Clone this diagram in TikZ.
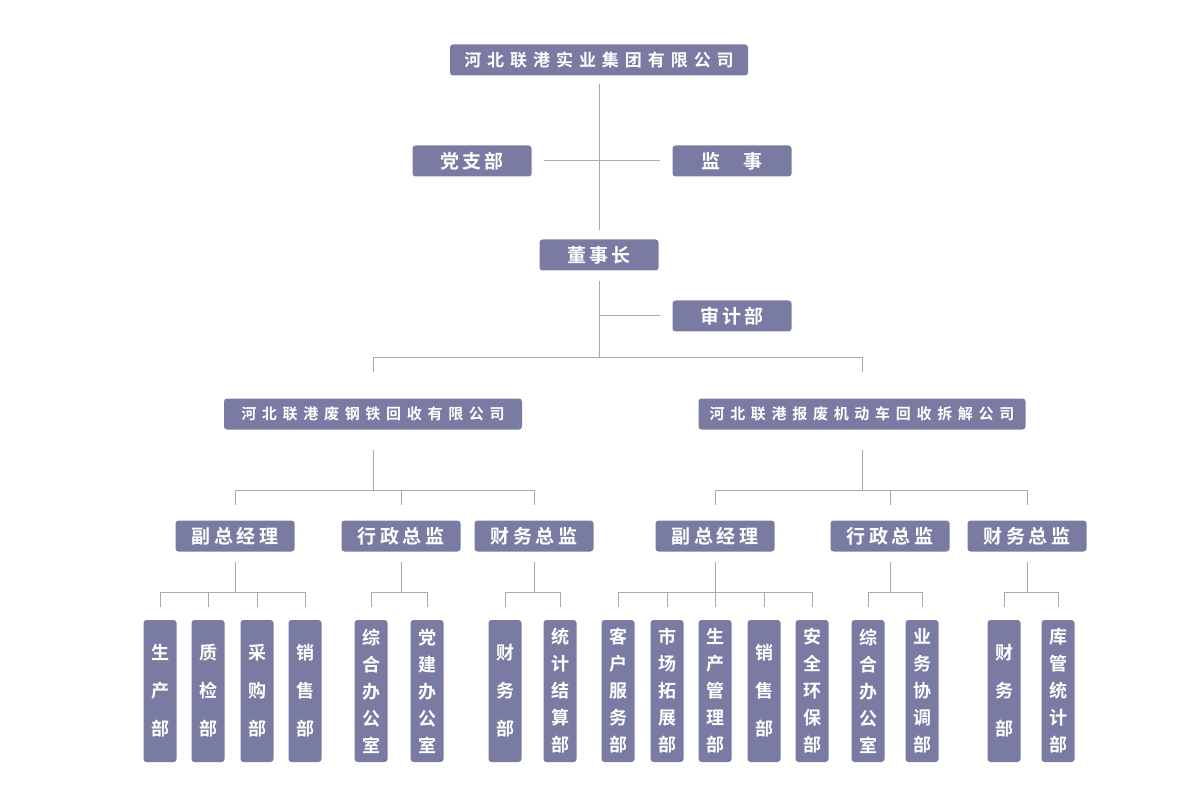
\documentclass[tikz,border=0pt]{standalone}
\usepackage{fontspec}
\newfontfamily\cjk{Noto Sans CJK SC Bold}
\definecolor{boxblue}{HTML}{7A7BA3}
\definecolor{linegray}{HTML}{AAAAAA}
\tikzset{
  box/.style={fill=boxblue,text=white,rounded corners=3pt,inner sep=0pt,
    minimum height=31,minimum width=119},
  topbox/.style={box,minimum width=298,font=\cjk\fontsize{17}{17}\selectfont\addfontfeature{LetterSpace=35}},
  compbox/.style={box,font=\cjk\fontsize{15}{15}\selectfont\addfontfeature{LetterSpace=38}},
  midbox/.style={box,font=\cjk\fontsize{19}{19}\selectfont\addfontfeature{LetterSpace=18}},
  leaf/.style={fill=boxblue,text=white,rounded corners=3pt,inner sep=0pt,
    minimum width=33,minimum height=142,align=center,font=\cjk\fontsize{18}{38}\selectfont},
  leaffive/.style={leaf,font=\cjk\fontsize{18}{27}\selectfont},
  link/.style={draw=linegray,line width=1pt}
}
% parent, gap below parent, bus y, gap above children, children
\newcommand\branch[5]{%
  \draw[link] ([yshift=-#2]#1.south) -- (#1.south |- 0,#3);
  \foreach \c in {#5}{\draw[link] (#1.south |- 0,#3) -| ([yshift=#4]\c.north);}}
\begin{document}
\begin{tikzpicture}[x=1pt,y=-1pt]
\useasboundingbox (0,0) rectangle (1200,786);
% top levels
\node[topbox] (group) at (599,60) {河北联港实业集团有限公司};
\node[midbox] (party) at (472,161) {党支部};
\node[midbox] (super) at (732,161) {监\hspace{1.2em}事};
\node[midbox] (chair) at (599,255) {董事长};
\node[midbox] (audit) at (732,316) {审计部};
\draw[link] ([yshift=-8]group.south) -- ([yshift=9]chair.north);
\draw[link,shorten <=12pt,shorten >=12pt] (party) -- (super);
\coordinate (auditjoin) at (600,316);
\draw[link,shorten >=12pt] (auditjoin) -- (audit);
% companies
\node[compbox,minimum width=298] (steel) at (373,414) {河北联港废钢铁回收有限公司};
\node[compbox,minimum width=327] (auto) at (862,414) {河北联港报废机动车回收拆解公司};
\branch{chair}{10}{358}{26}{steel,auto}
% managers
\node[midbox] (lvice) at (235,536) {副总经理};
\node[midbox] (ladmin) at (401,536) {行政总监};
\node[midbox] (lfin) at (534,536) {财务总监};
\node[midbox] (rvice) at (715,536) {副总经理};
\node[midbox] (radmin) at (890,536) {行政总监};
\node[midbox] (rfin) at (1027,536) {财务总监};
\branch{steel}{20}{490}{15}{lvice,ladmin,lfin}
\branch{auto}{20}{490}{15}{rvice,radmin,rfin}
% departments
\node[leaf] (l1) at (160,691) {生\\产\\部};
\node[leaf] (l2) at (208,691) {质\\检\\部};
\node[leaf] (l3) at (257,691) {采\\购\\部};
\node[leaf] (l4) at (305,691) {销\\售\\部};
\node[leaffive] (l5) at (371,691) {综\\合\\办\\公\\室};
\node[leaffive] (l6) at (427,691) {党\\建\\办\\公\\室};
\node[leaf] (l7) at (505,691) {财\\务\\部};
\node[leaffive] (l8) at (560,691) {统\\计\\结\\算\\部};
\node[leaffive] (r1) at (618,691) {客\\户\\服\\务\\部};
\node[leaffive] (r2) at (667,691) {市\\场\\拓\\展\\部};
\node[leaffive] (r3) at (715,691) {生\\产\\管\\理\\部};
\node[leaf] (r4) at (764,691) {销\\售\\部};
\node[leaffive] (r5) at (812,691) {安\\全\\环\\保\\部};
\node[leaffive] (r6) at (868,691) {综\\合\\办\\公\\室};
\node[leaffive] (r7) at (922,691) {业\\务\\协\\调\\部};
\node[leaf] (r8) at (1004,691) {财\\务\\部};
\node[leaffive] (r9) at (1058,691) {库\\管\\统\\计\\部};
\branch{lvice}{10}{592}{13}{l1,l2,l3,l4}
\branch{ladmin}{10}{592}{13}{l5,l6}
\branch{lfin}{10}{592}{13}{l7,l8}
\branch{rvice}{10}{592}{13}{r1,r2,r3,r4,r5}
\branch{radmin}{10}{592}{13}{r6,r7}
\branch{rfin}{10}{592}{13}{r8,r9}
\end{tikzpicture}
\end{document}
